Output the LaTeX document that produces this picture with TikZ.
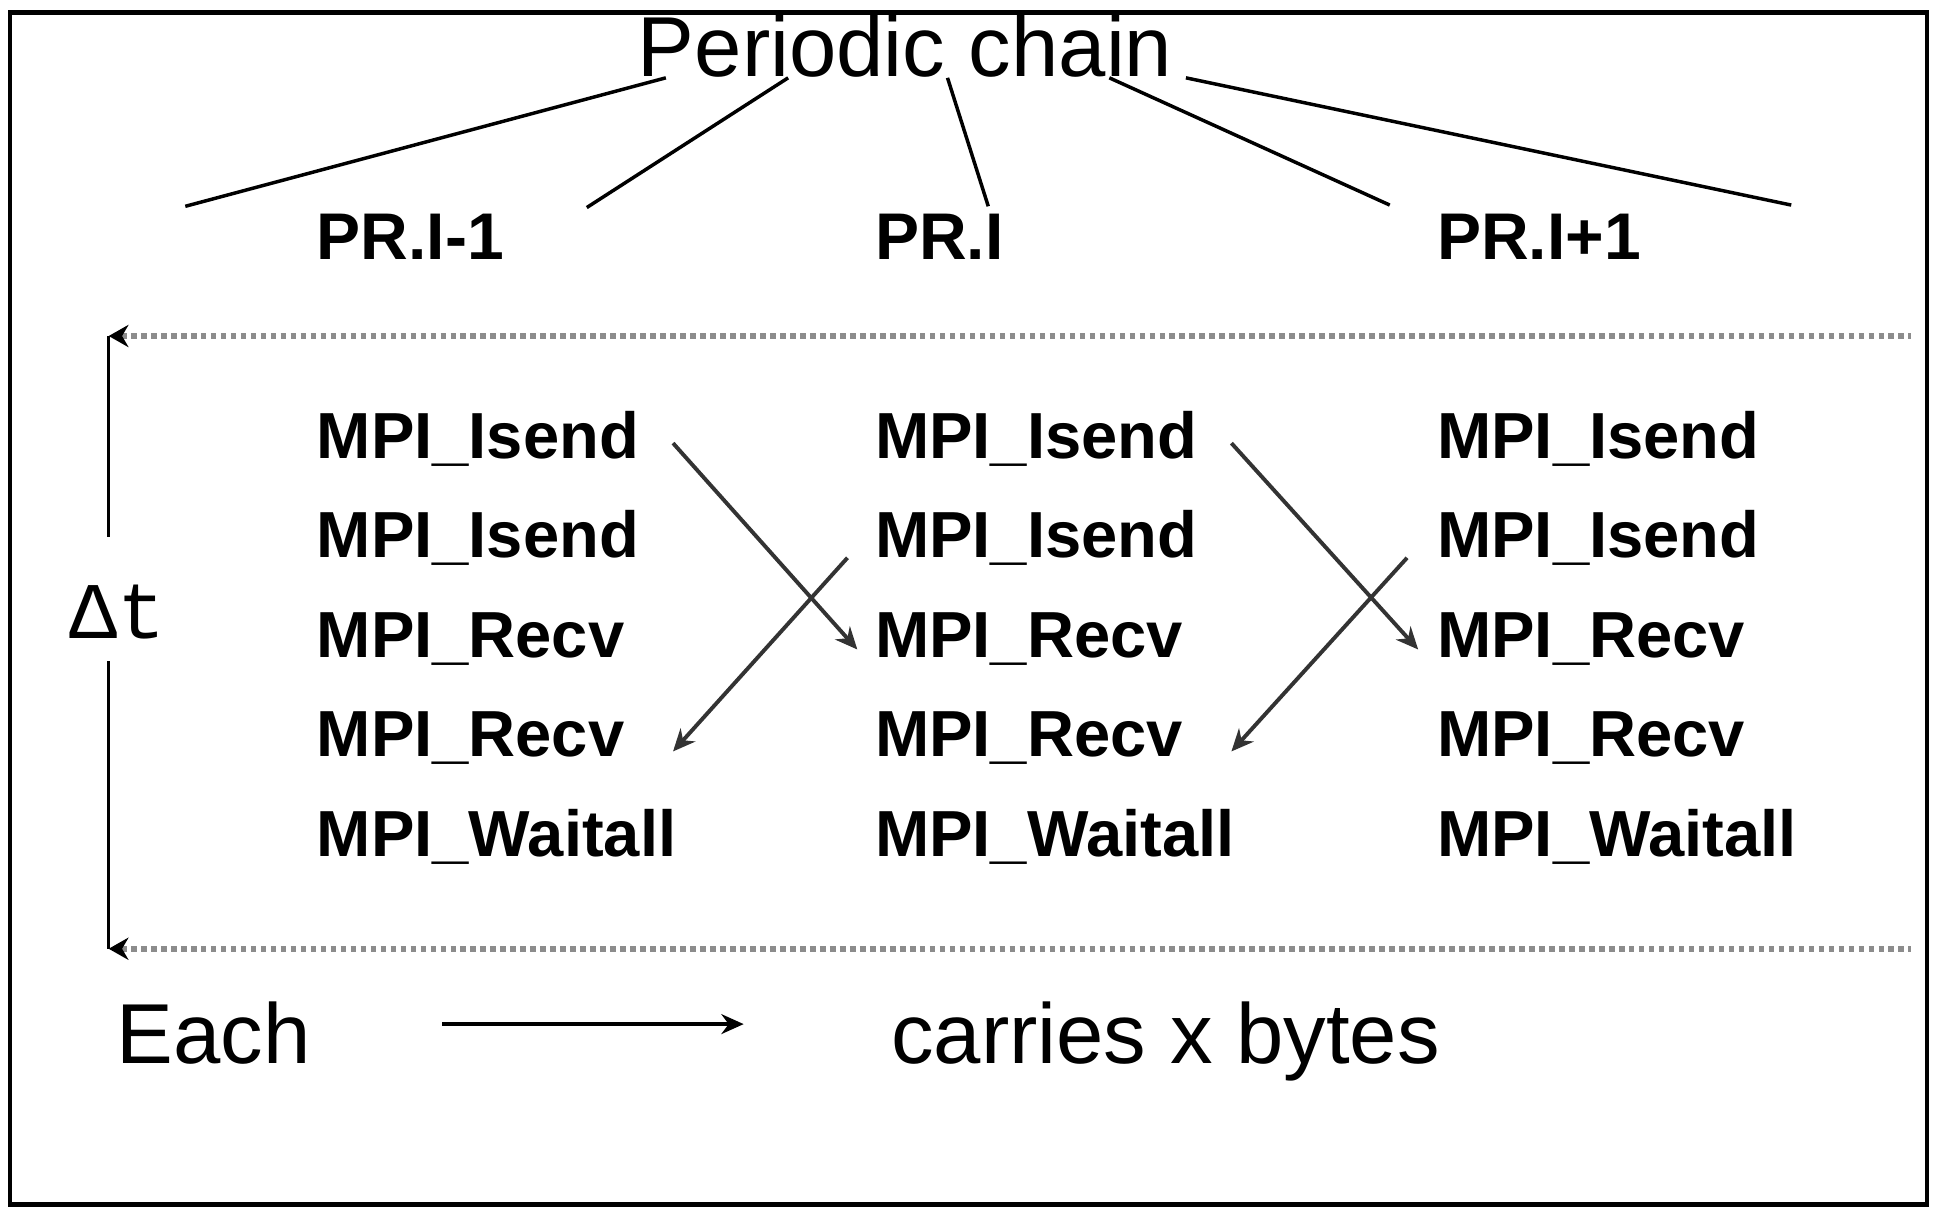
\documentclass[tikz,border=0pt]{standalone}
\usepackage{fontspec}
\setmainfont{Liberation Sans}
\newfontfamily\dtfont{Liberation Mono}
\usetikzlibrary{calc}
\usetikzlibrary{positioning}
\usetikzlibrary{arrows.meta}

\begin{document}
\begin{tikzpicture}[>={Stealth[length=1.8mm, width=1.6mm]}, node distance=0.25cm, line width=0.8pt]
    \tikzstyle{call}=[anchor=base west, inner sep=0pt, text width=2.87cm, align=left, text height=11pt, text depth=4pt, font=\fontsize{15}{17}\selectfont\bfseries]
    \tikzstyle{proc}=[anchor=base west, inner sep=0pt, font=\fontsize{15.2}{18}\selectfont\bfseries]
    \tikzstyle{legend}=[anchor=base west, inner sep=0pt, font=\fontsize{19.6}{22}\selectfont]
    \tikzstyle{msg}=[->, draw=black!80, line width=0.9pt]
    \tikzstyle{period}=[densely dotted, line width=1.3pt, draw=black!45]

    \useasboundingbox (0,0) rectangle (15.68,-9.84);
    \draw[line width=1pt] (0.08,-0.10) rectangle (15.60,-9.75);

    % chain header
    \node[legend] (title) at (5.15,-0.62) {Periodic chain};
    \node[proc] (prA) at (2.55,-2.10) {PR.I-1};
    \node[proc] (prB) at (7.07,-2.10) {PR.I};
    \node[proc] (prC) at (11.62,-2.10) {PR.I+1};

    \coordinate (chainA) at (1.50,-1.67);
    \coordinate (chainB) at (4.75,-1.68);
    \coordinate (chainC) at (8.00,-1.67);
    \coordinate (chainD) at (11.25,-1.66);
    \coordinate (chainE) at (14.50,-1.66);
    \draw ($(title.base west)+(0.24,-0.01)$) -- (chainA);
    \draw ($(title.base west)+(1.23,-0.01)$) -- (chainB);
    \draw ($(title.base west)+(2.52,-0.01)$) -- (chainC);
    \draw ($(title.base west)+(3.83,-0.01)$) -- (chainD);
    \draw ($(title.base west)+(4.45,-0.01)$) -- (chainE);

    % calls of each process
    \node[call] (sendA1) at (2.55,-3.71) {MPI\_Isend};
    \node[call, below=of sendA1] (sendA2) {MPI\_Isend};
    \node[call, below=of sendA2] (recvA1) {MPI\_Recv};
    \node[call, below=of recvA1] (recvA2) {MPI\_Recv};
    \node[call, below=of recvA2] (waitA) {MPI\_Waitall};

    \node[call] (sendB1) at (7.07,-3.71) {MPI\_Isend};
    \node[call, below=of sendB1] (sendB2) {MPI\_Isend};
    \node[call, below=of sendB2] (recvB1) {MPI\_Recv};
    \node[call, below=of recvB1] (recvB2) {MPI\_Recv};
    \node[call, below=of recvB2] (waitB) {MPI\_Waitall};

    \node[call] (sendC1) at (11.62,-3.71) {MPI\_Isend};
    \node[call, below=of sendC1] (sendC2) {MPI\_Isend};
    \node[call, below=of sendC2] (recvC1) {MPI\_Recv};
    \node[call, below=of recvC1] (recvC2) {MPI\_Recv};
    \node[call, below=of recvC2] (waitC) {MPI\_Waitall};

    \draw[msg] (sendA1.east) -- ([xshift=-1.3mm, yshift=-0.6mm]recvB1.west);
    \draw[msg] ([xshift=-2.1mm]sendB2.base west) -- ([yshift=-0.8mm]recvA2.east);
    \draw[msg] (sendB1.east) -- ([xshift=-1.4mm, yshift=-0.6mm]recvC1.west);
    \draw[msg] ([xshift=-2.3mm]sendC2.base west) -- ([yshift=-0.8mm]recvB2.east);

    % one period
    \coordinate (topL) at (0.88,-2.72);
    \coordinate (topR) at (15.47,-2.72);
    \coordinate (botL) at (0.88,-7.68);
    \coordinate (botR) at (15.47,-7.68);
    \draw[period, {Stealth[length=1.6mm, width=1.8mm, color=black]}-] (topL) -- (topR);
    \draw[period, {Stealth[length=1.6mm, width=1.8mm, color=black]}-] (botL) -- (botR);

    \node[anchor=base, inner sep=0pt, text height=0.81cm, text depth=0.17cm, font=\fontsize{18.5}{20}\dtfont] (dt) at (0.95,-5.17) {Δt};
    \draw (topL) -- (topL |- dt.north);
    \draw (topL |- dt.south) -- (botL);

    % legend
    \node[legend] (each) at (0.93,-8.61) {Each};
    \node[legend] (carries) at (7.20,-8.61) {carries x bytes};
    \coordinate (legA) at (3.58,-8.29);
    \coordinate (legB) at (6.02,-8.29);
    \draw[->, line width=1pt] (legA) -- (legB);
\end{tikzpicture}
\end{document}
